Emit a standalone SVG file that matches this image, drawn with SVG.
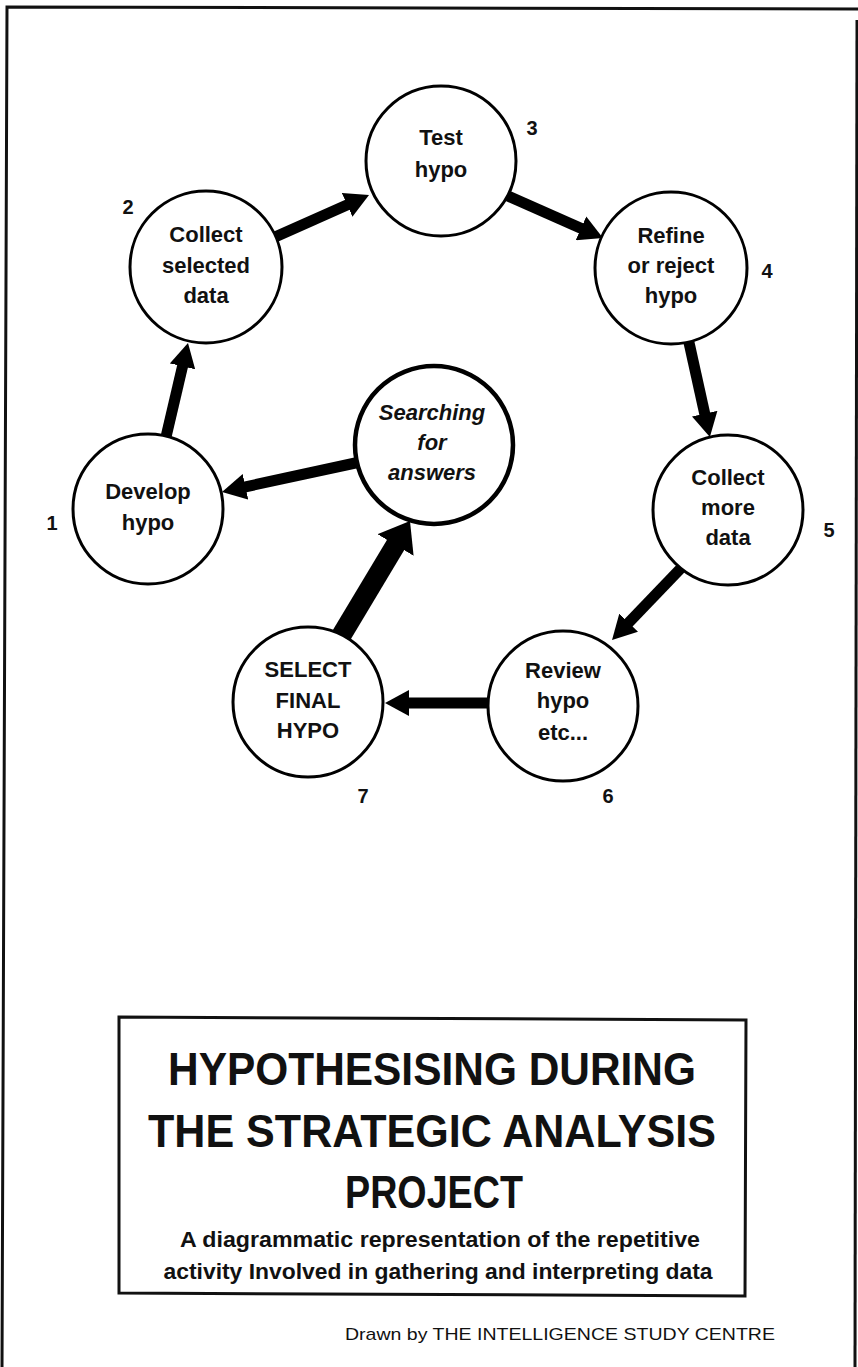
<svg xmlns="http://www.w3.org/2000/svg" width="858" height="1367" viewBox="0 0 858 1367">
  <style>
    .node circle { fill: #ffffff; stroke: #000000; stroke-width: 3; }
    .node text, .num { font-family: "Liberation Sans", Arial, sans-serif; font-weight: bold; font-size: 22px; fill: #111111; text-anchor: middle; }
    .num { font-size: 20px; }
    .hub circle { stroke-width: 4.5; }
    .hub text { font-style: italic; }
    .edge { stroke: #000000; stroke-width: 11; fill: none; marker-end: url(#head); }
    .edge.main { stroke-width: 20; marker-end: url(#bighead); }
    .frame { fill: none; stroke: #111111; stroke-width: 3; }
    .title { font-family: "Liberation Sans", Arial, sans-serif; font-weight: bold; font-size: 47px; fill: #111111; text-anchor: middle; }
    .sub { font-family: "Liberation Sans", Arial, sans-serif; font-weight: bold; font-size: 22px; fill: #111111; text-anchor: middle; }
    .credit { font-family: "Liberation Sans", Arial, sans-serif; font-size: 17px; fill: #111111; }
  </style>
  <defs>
    <marker id="head" markerUnits="userSpaceOnUse" viewBox="0 0 24 26" markerWidth="24" markerHeight="26" refX="6" refY="13" orient="auto">
      <path d="M0,0 L24,13 L0,26 z" fill="#000000"/>
    </marker>
    <marker id="bighead" markerUnits="userSpaceOnUse" viewBox="0 0 28 42" markerWidth="28" markerHeight="42" refX="8" refY="21" orient="auto">
      <path d="M0,0 L28,21 L0,42 z" fill="#000000"/>
    </marker>
  </defs>

  <rect width="858" height="1367" fill="#ffffff"/>

  <!-- page frame -->
  <path class="frame" d="M858,9 L7,7 L2,1367"/>
  <path class="frame" d="M857,20 L855,1367"/>

  <!-- connectors -->
  <g id="connectors">
    <line class="edge" x1="166" y1="437" x2="183.9" y2="360.5"/>
    <line class="edge" x1="275" y1="237" x2="352.6" y2="202.4"/>
    <line class="edge" x1="508" y1="196" x2="586.5" y2="230.7"/>
    <line class="edge" x1="688" y1="338" x2="706" y2="419.5"/>
    <line class="edge" x1="684" y1="565" x2="624.5" y2="627"/>
    <line class="edge" x1="492" y1="703" x2="403" y2="703"/>
    <line class="edge" x1="360" y1="462" x2="239.6" y2="488.1"/>
    <line class="edge main" x1="341" y1="636" x2="399.7" y2="538.2"/>
  </g>

  <!-- process steps -->
  <g id="node-develop" class="node">
    <circle cx="148" cy="509" r="75"/>
    <text x="148" y="499">Develop</text>
    <text x="148" y="530">hypo</text>
  </g>
  <g id="node-collect-selected" class="node">
    <circle cx="206" cy="267" r="76"/>
    <text x="206" y="242">Collect</text>
    <text x="206" y="273">selected</text>
    <text x="206" y="303">data</text>
  </g>
  <g id="node-test" class="node">
    <circle cx="441" cy="161" r="75"/>
    <text x="441" y="145">Test</text>
    <text x="441" y="177">hypo</text>
  </g>
  <g id="node-refine" class="node">
    <circle cx="671" cy="268" r="76"/>
    <text x="671" y="243">Refine</text>
    <text x="671" y="273">or reject</text>
    <text x="671" y="303">hypo</text>
  </g>
  <g id="node-collect-more" class="node">
    <circle cx="728" cy="510" r="75"/>
    <text x="728" y="485">Collect</text>
    <text x="728" y="515">more</text>
    <text x="728" y="545">data</text>
  </g>
  <g id="node-review" class="node">
    <circle cx="563" cy="706" r="75"/>
    <text x="563" y="678">Review</text>
    <text x="563" y="708">hypo</text>
    <text x="563" y="740">etc...</text>
  </g>
  <g id="node-select" class="node">
    <circle cx="308" cy="702" r="75"/>
    <text x="308" y="677">SELECT</text>
    <text x="308" y="708">FINAL</text>
    <text x="308" y="738">HYPO</text>
  </g>
  <g id="node-searching" class="node hub">
    <circle cx="434" cy="445" r="79"/>
    <text x="432" y="420">Searching</text>
    <text x="432" y="450">for</text>
    <text x="432" y="480">answers</text>
  </g>

  <!-- step numbers -->
  <g id="step-numbers">
    <text class="num" x="52" y="530">1</text>
    <text class="num" x="128" y="214">2</text>
    <text class="num" x="532" y="135">3</text>
    <text class="num" x="767" y="278">4</text>
    <text class="num" x="829" y="537">5</text>
    <text class="num" x="608" y="803">6</text>
    <text class="num" x="363" y="803">7</text>
  </g>

  <!-- title panel -->
  <g id="title-panel">
    <path class="frame" d="M119,1017 L746,1020 L745,1296 L119,1293 Z"/>
    <text class="title" x="432" y="1085" textLength="528" lengthAdjust="spacingAndGlyphs">HYPOTHESISING DURING</text>
    <text class="title" x="432" y="1147" textLength="568" lengthAdjust="spacingAndGlyphs">THE STRATEGIC ANALYSIS</text>
    <text class="title" x="434" y="1208" textLength="178" lengthAdjust="spacingAndGlyphs">PROJECT</text>
    <text class="sub" x="440" y="1247" textLength="520" lengthAdjust="spacingAndGlyphs">A diagrammatic representation of the repetitive</text>
    <text class="sub" x="438" y="1279" textLength="549" lengthAdjust="spacingAndGlyphs">activity Involved in gathering and interpreting data</text>
  </g>

  <text class="credit" x="345" y="1340" textLength="430" lengthAdjust="spacingAndGlyphs">Drawn by THE INTELLIGENCE STUDY CENTRE</text>
</svg>
